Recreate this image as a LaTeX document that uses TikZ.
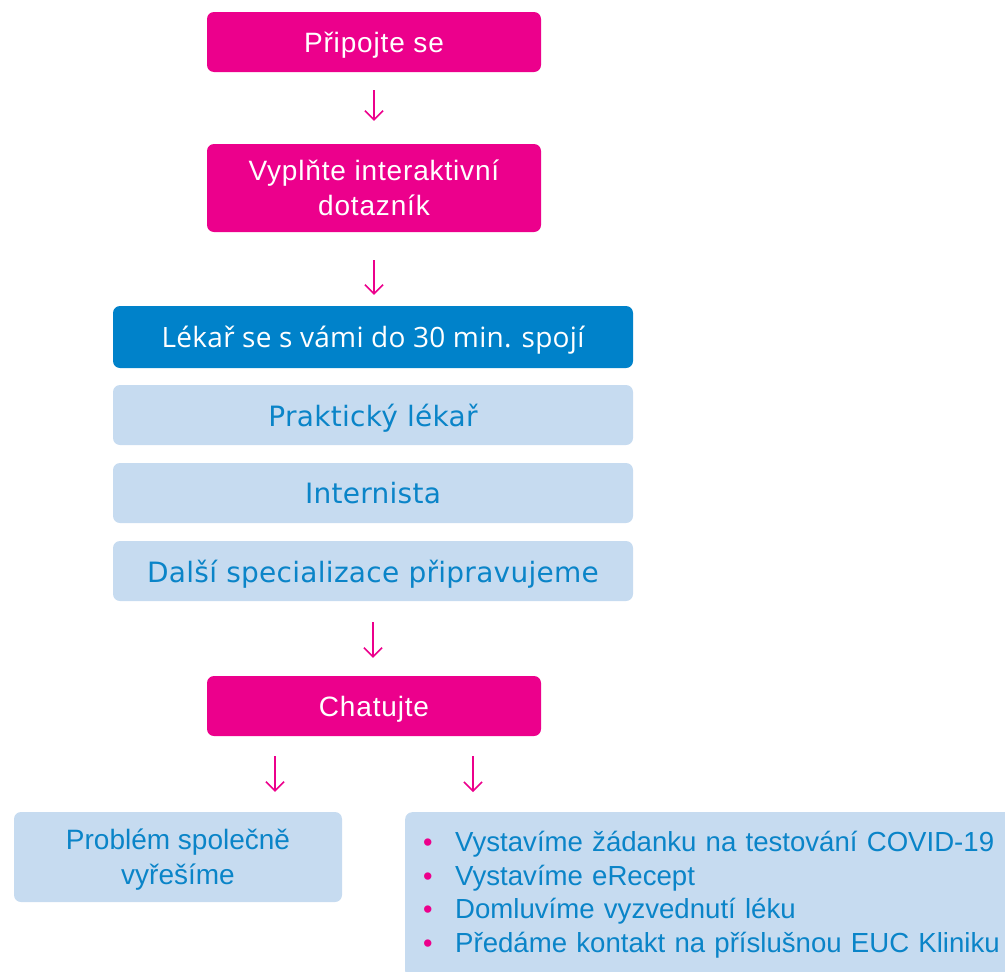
\documentclass[tikz,border=0pt]{standalone}
\usepackage{fontspec}
\setmainfont{Liberation Sans}
\newfontfamily\tahomafont{DejaVu Sans}
\newfontfamily\roundfont{Open Sans}
\usetikzlibrary{arrows.meta,positioning}
\definecolor{pinkfill}{HTML}{EC008C}
\definecolor{bluefill}{HTML}{0082CA}
\definecolor{lightfill}{HTML}{C6DBF0}
\definecolor{bluetext}{HTML}{0A84C8}
\tikzset{
    pinkstep/.style={
        fill=pinkfill,
        rounded corners=7pt,
        minimum width=334pt,
        minimum height=60pt,
        text=white,
        align=center,
        text depth=0pt,
        font=\addfontfeatures{LetterSpace=3}\fontsize{28}{35}\selectfont
    },
    bluestep/.style={
        fill=bluefill,
        rounded corners=7pt,
        minimum width=520pt,
        minimum height=62pt,
        text=white,
        text depth=0pt,
        font=\roundfont\addfontfeatures{LetterSpace=1}\fontsize{28}{32}\selectfont
    },
    lightstep/.style={
        fill=lightfill,
        rounded corners=7pt,
        minimum width=520pt,
        minimum height=60pt,
        text=bluetext,
        align=center,
        text depth=0pt,
        font=\tahomafont\addfontfeatures{LetterSpace=1}\fontsize{28}{34}\selectfont
    },
    flow/.style={
        draw=pinkfill,
        line width=1.5pt,
        -{Straight Barb[length=9pt, width=18pt]},
        shorten <=20pt,
        shorten >=20pt
    }
}
\newcommand{\pinkdot}{\textcolor{pinkfill}{\fontsize{27}{27}\selectfont\textbullet}}

\begin{document}
\begin{tikzpicture}[x=1pt, y=-1pt]
  \useasboundingbox (0,0) rectangle (1005,972);

  % Main steps
  \node[pinkstep] (join) at (374,42) {Připojte se};
  \node[pinkstep, minimum height=88pt] (form) at (374,188) {Vyplňte interaktivní\\dotazník};
  \node[bluestep] (doctor) at (373,337) {Lékař se s vámi do 30 min. spojí};

  % Specialisations
  \node[lightstep] (gp) at (373,415) {Praktický lékař};
  \node[lightstep] (intern) at (373,493) {Internista};
  \node[lightstep] (more) at (373,571) {Další specializace připravujeme};

  \node[pinkstep] (chat) at (374,706) {Chatujte};

  % Outcomes
  \node[lightstep, minimum width=328pt, minimum height=90pt,
        font=\fontsize{28}{35}\selectfont] (solve) at (178,857) {Problém společně\\vyřešíme};
  \node[lightstep, anchor=north west, minimum width=630pt, minimum height=166pt,
        inner xsep=18pt, text width=594pt, align=left, text depth=,
        font=\fontsize{27.6}{33.5}\selectfont] (tasks) at (405,812) {%
    \begin{tabular}{@{}p{32pt}@{}l@{}}
      \pinkdot & Vystavíme žádanku na testování COVID-19\\
      \pinkdot & Vystavíme eRecept\\
      \pinkdot & Domluvíme vyzvednutí léku\\
      \pinkdot & Předáme kontakt na příslušnou EUC Kliniku
    \end{tabular}};

  % Arrows
  \draw[flow, shorten <=18pt, shorten >=23pt] (join) -- (form);
  \draw[flow, shorten <=28pt, shorten >=11pt] (form.south) -- (form.south |- doctor.north);
  \draw[flow, shorten <=21pt, shorten >=18pt] (more.south) -- (more.south |- chat.north);
  \draw[flow] ([xshift=-99pt]chat.south) -- ([xshift=-99pt]chat.south |- solve.north);
  \draw[flow] ([xshift=99pt]chat.south) -- ([xshift=99pt]chat.south |- tasks.north);
\end{tikzpicture}
\end{document}
